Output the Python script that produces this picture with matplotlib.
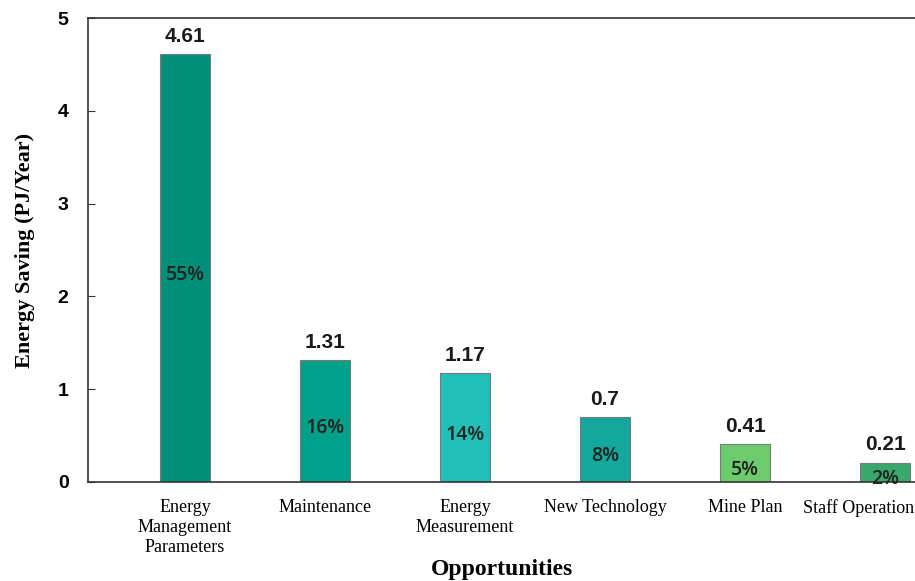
import matplotlib.pyplot as plt
import matplotlib.transforms as mtransforms
import numpy as np

# Energy saving opportunities (PJ/year) and their share of the total
categories = ['Energy\nManagement\nParameters', 'Maintenance', 'Energy\nMeasurement',
              'New Technology', 'Mine Plan', 'Staff Operation']
savings = [4.61, 1.31, 1.17, 0.7, 0.41, 0.21]
shares = ['55%', '16%', '14%', '8%', '5%', '2%']
colors = ['#00907a', '#00a08a', '#22bfb8', '#12a89c', '#6ccb6c', '#3aa86a']

fig = plt.figure(figsize=(9.15, 5.81), dpi=100)
ax = fig.add_axes([0.0962, 0.1704, 0.9038, 0.7986])

x = np.arange(len(categories))
ax.bar(x, savings, width=0.36, color=colors, edgecolor='#7a7a7a', linewidth=0.8)

for xi, v, s in zip(x, savings, shares):
    ax.annotate(f'{v:g}', xy=(xi, v), xytext=(0, 6), textcoords='offset points',
                ha='center', va='bottom', fontsize=15, fontweight='bold',
                family='Liberation Sans', color='#1a1a1a')
    ax.annotate(s, xy=(xi, v / 2), xytext=(0, -5), textcoords='offset points',
                ha='center', va='center', fontsize=14, family='Open Sans',
                fontweight='semibold', color='#222222')

ax.set_xlim(-0.693, 5.214)
ax.set_ylim(0, 5)
ax.set_xticks(x)
ax.set_xticklabels(categories, family='Liberation Serif', fontsize=13, linespacing=1.25)
ax.set_yticks([0, 1, 2, 3, 4, 5])
ax.set_yticklabels(['0', '1', '2', '3', '4', '5'], family='Liberation Sans',
                   fontweight='bold', fontsize=14)
ax.tick_params(axis='x', length=0, pad=12)
ax.tick_params(axis='y', direction='in', length=5, pad=14, color='#333333')

# the last category sits at the right edge; nudge its label left so it stays inside
last = ax.get_xticklabels()[-1]
last.set_transform(last.get_transform() +
                   mtransforms.ScaledTranslation(-19 / 72, 0, fig.dpi_scale_trans))

ax.set_ylabel('Energy Saving (PJ/Year)', family='Liberation Serif', fontweight='bold',
              fontsize=16, labelpad=16)
ax.set_xlabel('Opportunities', family='Liberation Serif', fontweight='bold',
              fontsize=17, labelpad=2)

ax.spines['right'].set_visible(False)
for side in ['left', 'bottom', 'top']:
    ax.spines[side].set_color('#333333')
    ax.spines[side].set_linewidth(1.2)

fig.savefig('out.png', dpi=100, facecolor='white')
